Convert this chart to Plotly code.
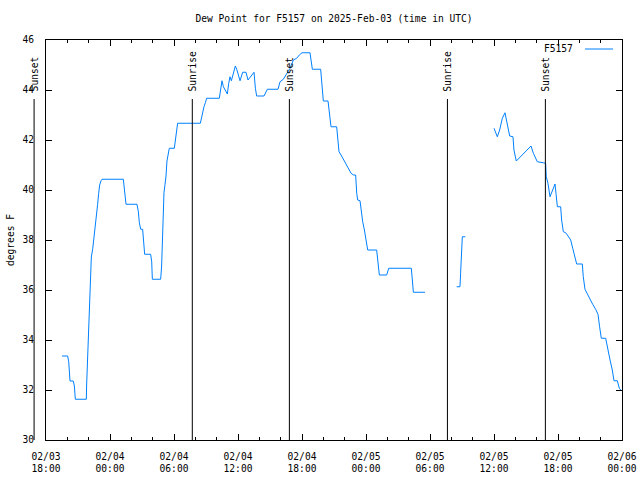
import pandas as pd
import plotly.graph_objects as go

# ---- data (hours after 2025-02-03 18:00 UTC, dew point in °F) ----
start = pd.Timestamp("2025-02-03 18:00")
end = pd.Timestamp("2025-02-06 00:00")

seg1_hours = [1.50, 2.03, 2.13, 2.19, 2.25, 2.56, 2.66, 2.75, 3.78, 3.81, 3.91, 4.00, 4.09, 4.16,
              4.25, 4.38, 4.47, 4.56, 4.66, 4.75, 4.84, 4.94, 5.03, 5.16, 5.25, 7.25, 7.38, 7.50,
              8.53, 8.66, 8.75, 8.88, 9.06, 9.16, 9.25, 9.81, 9.91, 9.97, 10.75, 10.84, 10.91,
              10.97, 11.06, 11.16, 11.25, 11.34, 11.47, 11.56, 12.03, 12.13, 12.25, 12.34, 14.47,
              14.56, 14.69, 14.81, 14.94, 15.06, 16.25, 16.38, 16.50, 16.63, 16.81, 17.00, 17.13,
              17.25, 17.38, 17.50, 17.63, 17.75, 17.88, 18.00, 18.19, 18.44, 18.75, 18.94, 19.31,
              19.50, 19.63, 19.75, 20.44, 20.75, 21.75, 21.94, 22.25, 22.56, 22.88, 23.19, 23.50,
              23.75, 24.00, 24.75, 24.97, 25.75, 25.88, 26.00, 26.44, 26.56, 26.72, 27.25, 27.35,
              27.47, 27.66, 27.88, 28.10, 28.35, 28.60, 28.81, 29.03, 29.13, 29.22, 29.44, 29.56,
              29.69, 29.85, 30.00, 30.16, 31.00, 31.13, 31.25, 31.94, 32.13, 34.25, 34.38, 34.44,
              35.53]
seg1_vals = [33.36, 33.36, 33.13, 32.83, 32.36, 32.36, 32.16, 31.63, 31.63, 32.20, 33.40, 34.60,
             35.69, 36.63, 37.32, 37.65, 37.96, 38.29, 38.67, 39.00, 39.43, 39.87, 40.20, 40.37,
             40.43, 40.43, 39.93, 39.43, 39.43, 39.13, 38.69, 38.43, 38.43, 37.73, 37.43, 37.43,
             37.13, 36.43, 36.43, 36.96, 38.07, 39.16, 39.89, 40.23, 40.56, 41.16, 41.45, 41.67,
             41.67, 42.07, 42.43, 42.67, 42.67, 42.87, 43.16, 43.33, 43.49, 43.67, 43.67, 44.13,
             44.37, 44.13, 43.97, 43.84, 44.27, 44.53, 44.37, 44.56, 44.80, 44.96, 44.83, 44.60,
             44.37, 44.71, 44.71, 44.40, 44.60, 44.71, 44.07, 43.76, 43.76, 44.03, 44.03, 44.33,
             44.43, 44.67, 44.87, 45.20, 45.27, 45.40, 45.49, 45.49, 44.83, 44.83, 44.27, 43.56,
             43.56, 43.13, 42.53, 42.53, 42.03, 41.53, 41.40, 41.23, 41.07, 40.87, 40.67, 40.60,
             40.60, 39.87, 39.60, 39.57, 39.07, 38.73, 38.40, 38.07, 37.60, 37.60, 37.07, 36.60,
             36.60, 36.87, 36.87, 36.17, 35.91, 35.91]

seg2_hours = [38.50, 38.81, 38.87, 38.97, 39.03, 39.31]
seg2_vals = [36.13, 36.13, 36.67, 37.63, 38.13, 38.13]

seg3_hours = [42.00, 42.31, 42.53, 42.78, 43.03, 43.25, 43.47, 43.78, 43.87, 44.09, 45.47, 45.69,
              46.06, 46.62, 46.84, 46.90, 47.06, 47.25, 47.50, 47.72, 47.81, 47.94, 48.25, 48.34,
              48.50, 48.72, 48.94, 49.19, 49.38, 49.59, 49.75, 50.28, 50.37, 50.53, 50.75, 51.00,
              51.25, 51.53, 51.75, 51.90, 52.06, 52.47, 52.69, 52.88, 53.09, 53.25, 53.56, 53.75,
              53.88]
seg3_vals = [42.47, 42.13, 42.40, 42.87, 43.09, 42.60, 42.16, 42.13, 41.60, 41.16, 41.76, 41.47,
             41.13, 41.09, 41.07, 40.53, 40.27, 39.73, 39.97, 40.24, 39.87, 39.33, 39.33, 38.80,
             38.33, 38.29, 38.16, 38.00, 37.67, 37.27, 37.04, 37.04, 36.53, 36.03, 35.83, 35.63,
             35.43, 35.23, 35.03, 34.53, 34.07, 34.07, 33.53, 33.20, 32.80, 32.37, 32.37, 32.07,
             32.00]

sun_times = ["2025-02-03 16:53", "2025-02-04 07:43", "2025-02-04 16:49",
             "2025-02-05 07:38", "2025-02-05 16:49"]
sun_labels = ["Sunset", "Sunrise", "Sunset", "Sunrise", "Sunset"]

x_tick_times = ["2025-02-03 18:00", "2025-02-04 00:00", "2025-02-04 06:00", "2025-02-04 12:00",
                "2025-02-04 18:00", "2025-02-05 00:00", "2025-02-05 06:00", "2025-02-05 12:00",
                "2025-02-05 18:00", "2025-02-06 00:00"]
x_tick_text = ["02/03<br>18:00", "02/04<br>00:00", "02/04<br>06:00", "02/04<br>12:00",
               "02/04<br>18:00", "02/05<br>00:00", "02/05<br>06:00", "02/05<br>12:00",
               "02/05<br>18:00", "02/06<br>00:00"]
y_tick_vals = [30, 32, 34, 36, 38, 40, 42, 44, 46]

series_name = "F5157"
title_text = "Dew Point for F5157 on 2025-Feb-03 (time in UTC)"
y_title = "degrees F"

# ---- build ----
FONT = "DejaVu Sans Mono"
LINE_COLOR = "rgb(0,128,255)"
ML, MR, MT, MB = 46, 18, 40, 40
W, H = 640, 480

xs, ys = [], []
for hrs, vals in [(seg1_hours, seg1_vals), (seg2_hours, seg2_vals), (seg3_hours, seg3_vals)]:
    if xs:
        xs.append(None)
        ys.append(None)
    xs += [start + pd.Timedelta(hours=h) for h in hrs]
    ys += vals

fig = go.Figure()
fig.add_trace(go.Scatter(x=xs, y=ys, mode="lines", name=series_name,
                         line=dict(color=LINE_COLOR, width=1), connectgaps=False,
                         showlegend=False))

span = (end - start).total_seconds()
line_top = 0.8525
for t, lab in zip(sun_times, sun_labels):
    frac = (pd.Timestamp(t) - start).total_seconds() / span
    fig.add_shape(type="line", xref="paper", yref="paper", x0=frac, x1=frac, y0=0, y1=line_top,
                  line=dict(color="black", width=1))
    fig.add_annotation(xref="paper", yref="paper", x=frac, y=0.868, text=lab, textangle=-90,
                       showarrow=False, xanchor="center", yanchor="bottom",
                       font=dict(family=FONT, size=9.6, color="black"), borderpad=0)

# manual gnuplot-style key: text then sample line
fig.add_annotation(xref="paper", yref="paper", x=0.9167, y=0.9775, text=series_name,
                   showarrow=False, xanchor="right", yanchor="middle",
                   font=dict(family=FONT, size=9.6, color="black"), borderpad=0)
fig.add_shape(type="line", xref="paper", yref="paper", x0=0.9358, x1=0.9844, y0=0.9775, y1=0.9775,
              line=dict(color=LINE_COLOR, width=1))

# y-axis title placed like gnuplot's ylabel
pw = W - ML - MR
fig.add_annotation(xref="paper", yref="paper", x=(10 - ML) / pw, y=0.5, text=y_title,
                   textangle=-90, showarrow=False, xanchor="center", yanchor="middle",
                   font=dict(family=FONT, size=9.6, color="black"), borderpad=0)

fig.update_layout(
    width=W, height=H,
    margin=dict(l=ML, r=MR, t=MT, b=MB, autoexpand=False),
    paper_bgcolor="white", plot_bgcolor="white",
    font=dict(family=FONT, size=9.6, color="black"),
    title=dict(text=title_text, x=(ML + W - MR) / 2 / W, xanchor="center", y=1 - 19 / H,
               yanchor="middle", yref="container",
               font=dict(family=FONT, size=9.6, color="black")),
    showlegend=False,
)
fig.update_xaxes(range=[start, end], tickvals=[pd.Timestamp(t) for t in x_tick_times],
                 ticktext=x_tick_text, ticks="inside", ticklen=6, tickcolor="black",
                 showline=True, linecolor="black", linewidth=1, mirror="allticks",
                 showgrid=False, zeroline=False, ticklabelstandoff=7, automargin=False,
                 minor=dict(ticks="inside", ticklen=3, dtick=2 * 3600 * 1000,
                            tick0=start, tickcolor="black", showgrid=False))
fig.update_yaxes(range=[30, 46], tickvals=y_tick_vals, ticks="inside", ticklen=6,
                 tickcolor="black", showline=True, linecolor="black", linewidth=1,
                 mirror="allticks", showgrid=False, zeroline=False, ticklabelstandoff=9,
                 automargin=False)

fig.write_html("out.html", config={"displayModeBar": False, "staticPlot": True},
               post_script="document.body.style.margin='0';document.body.style.overflow='hidden';")
